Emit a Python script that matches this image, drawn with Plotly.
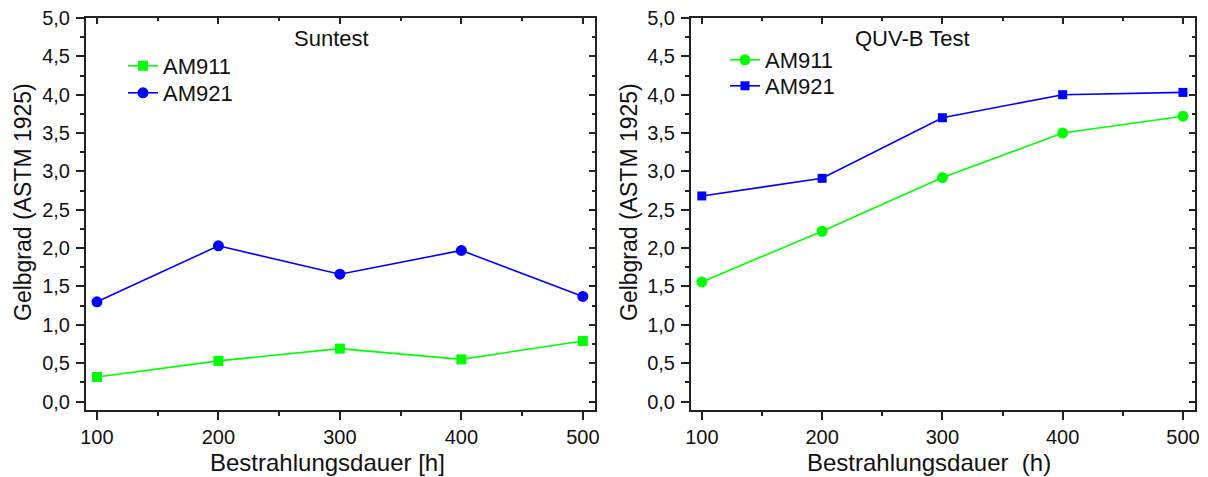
import plotly.graph_objects as go

# Irradiation duration in hours
hours = [100, 200, 300, 400, 500]

# Suntest yellowness index (ASTM 1925)
suntest_am911 = [0.32, 0.53, 0.69, 0.55, 0.79]
suntest_am921 = [1.30, 2.03, 1.66, 1.97, 1.37]

# QUV-B test yellowness index (ASTM 1925)
quvb_am911 = [1.56, 2.22, 2.92, 3.50, 3.72]
quvb_am921 = [2.68, 2.91, 3.70, 4.00, 4.03]

GREEN = "#00FF00"
BLUE = "#0000FF"
AXIS = "#222222"
TEXT = "#111111"
FONT = "Liberation Sans, Arial, sans-serif"

X_RANGE = [91, 510]
Y_RANGE = [-0.11, 5.0]

W, H = 1208, 477
left_dom = [86 / W, 595 / W]
right_dom = [691 / W, 1195 / W]
y_dom = [1 - 410 / H, 1 - 18 / H]


def px(x):
    return x / W


def py(y):
    return 1 - y / H


fig = go.Figure()


def add_series(x, y, name, color, symbol, size, xa, ya, legend):
    fig.add_trace(go.Scatter(
        x=x, y=y, name=name, mode="lines+markers",
        line=dict(color=color, width=1.6),
        marker=dict(color=color, symbol=symbol, size=size),
        xaxis=xa, yaxis=ya, legend=legend,
    ))


add_series(hours, suntest_am911, "AM911", GREEN, "square", 10, "x", "y", "legend")
add_series(hours, suntest_am921, "AM921", BLUE, "circle", 11, "x", "y", "legend2")
add_series(hours, quvb_am911, "AM911", GREEN, "circle", 11, "x2", "y2", "legend3")
add_series(hours, quvb_am921, "AM921", BLUE, "square", 9, "x2", "y2", "legend4")

# invisible carrier traces so the top/right frame axes (inward ticks) get drawn
for xa, ya, ys in (("x3", "y3", suntest_am911), ("x4", "y4", quvb_am911)):
    fig.add_trace(go.Scatter(x=hours, y=ys, mode="markers", marker=dict(opacity=0),
                             showlegend=False, hoverinfo="skip", xaxis=xa, yaxis=ya))

tick_font = dict(family=FONT, size=20, color=TEXT)


def xaxis_main(domain, anchor):
    return dict(
        domain=domain, anchor=anchor, range=X_RANGE, tick0=100, dtick=100, automargin=False,
        showgrid=False, zeroline=False, showline=True, linecolor=AXIS, linewidth=2,
        ticks="outside", ticklen=8, tickwidth=1.5, tickcolor=AXIS,
        minor=dict(dtick=50, tick0=100, ticks="outside", ticklen=4, tickwidth=1.5, tickcolor=AXIS),
        tickfont=tick_font,
    )


def yaxis_main(anchor):
    return dict(
        domain=y_dom, anchor=anchor, range=Y_RANGE, tick0=0, dtick=0.5, tickformat=".1f",
        automargin=False,
        showgrid=False, zeroline=False, showline=True, linecolor=AXIS, linewidth=2,
        ticks="outside", ticklen=8, tickwidth=1.5, tickcolor=AXIS,
        minor=dict(dtick=0.25, tick0=0, ticks="outside", ticklen=4, tickwidth=1.5, tickcolor=AXIS),
        tickfont=tick_font, ticklabelstandoff=2,
    )


def xaxis_frame(over, anchor):
    return dict(
        overlaying=over, anchor=anchor, side="top", range=X_RANGE, tick0=100, dtick=100,
        automargin=False,
        showgrid=False, zeroline=False, showline=True, linecolor=AXIS, linewidth=2,
        ticks="inside", ticklen=6, tickwidth=1.5, tickcolor=AXIS, showticklabels=False,
        minor=dict(dtick=50, tick0=100, ticks="inside", ticklen=3, tickwidth=1.5, tickcolor=AXIS),
    )


def yaxis_frame(over, anchor):
    return dict(
        overlaying=over, anchor=anchor, side="right", range=Y_RANGE, tick0=0, dtick=0.5,
        automargin=False,
        showgrid=False, zeroline=False, showline=True, linecolor=AXIS, linewidth=2,
        ticks="inside", ticklen=6, tickwidth=1.5, tickcolor=AXIS, showticklabels=False,
        minor=dict(dtick=0.25, tick0=0, ticks="inside", ticklen=3, tickwidth=1.5, tickcolor=AXIS),
    )


def legend_at(x, y):
    return dict(
        x=px(x), y=py(y), xanchor="left", yanchor="middle",
        font=dict(family=FONT, size=22, color=TEXT), bgcolor="rgba(0,0,0,0)",
        itemwidth=30, borderwidth=0,
    )


def text_note(text, x, y, size, angle=0):
    return dict(text=text, x=px(x), y=py(y), xref="paper", yref="paper",
                xanchor="center", yanchor="middle", textangle=angle,
                showarrow=False, font=dict(family=FONT, size=size, color=TEXT))


fig.update_layout(
    width=W, height=H,
    margin=dict(l=0, r=0, t=0, b=0, autoexpand=False),
    paper_bgcolor="white", plot_bgcolor="white",
    separators=",.",
    xaxis=xaxis_main(left_dom, "y"),
    yaxis=yaxis_main("x"),
    xaxis2=xaxis_main(right_dom, "y2"),
    yaxis2=yaxis_main("x2"),
    xaxis3=xaxis_frame("x", "y3"),
    yaxis3=yaxis_frame("y", "x3"),
    xaxis4=xaxis_frame("x2", "y4"),
    yaxis4=yaxis_frame("y2", "x4"),
    legend=legend_at(123, 66),
    legend2=legend_at(123, 93),
    legend3=legend_at(725, 60),
    legend4=legend_at(725, 86),
    showlegend=True,
    annotations=[
        text_note("Suntest", 331, 38, 22),
        text_note("QUV-B Test", 912, 38, 22),
        text_note("Bestrahlungsdauer [h]", 327, 462, 24),
        text_note("Bestrahlungsdauer  (h)", 929, 462, 24),
        text_note("Gelbgrad (ASTM 1925)", 23, 202, 23, -90),
        text_note("Gelbgrad (ASTM 1925)", 629, 202, 23, -90),
    ],
)

fig.write_html("out.html")
